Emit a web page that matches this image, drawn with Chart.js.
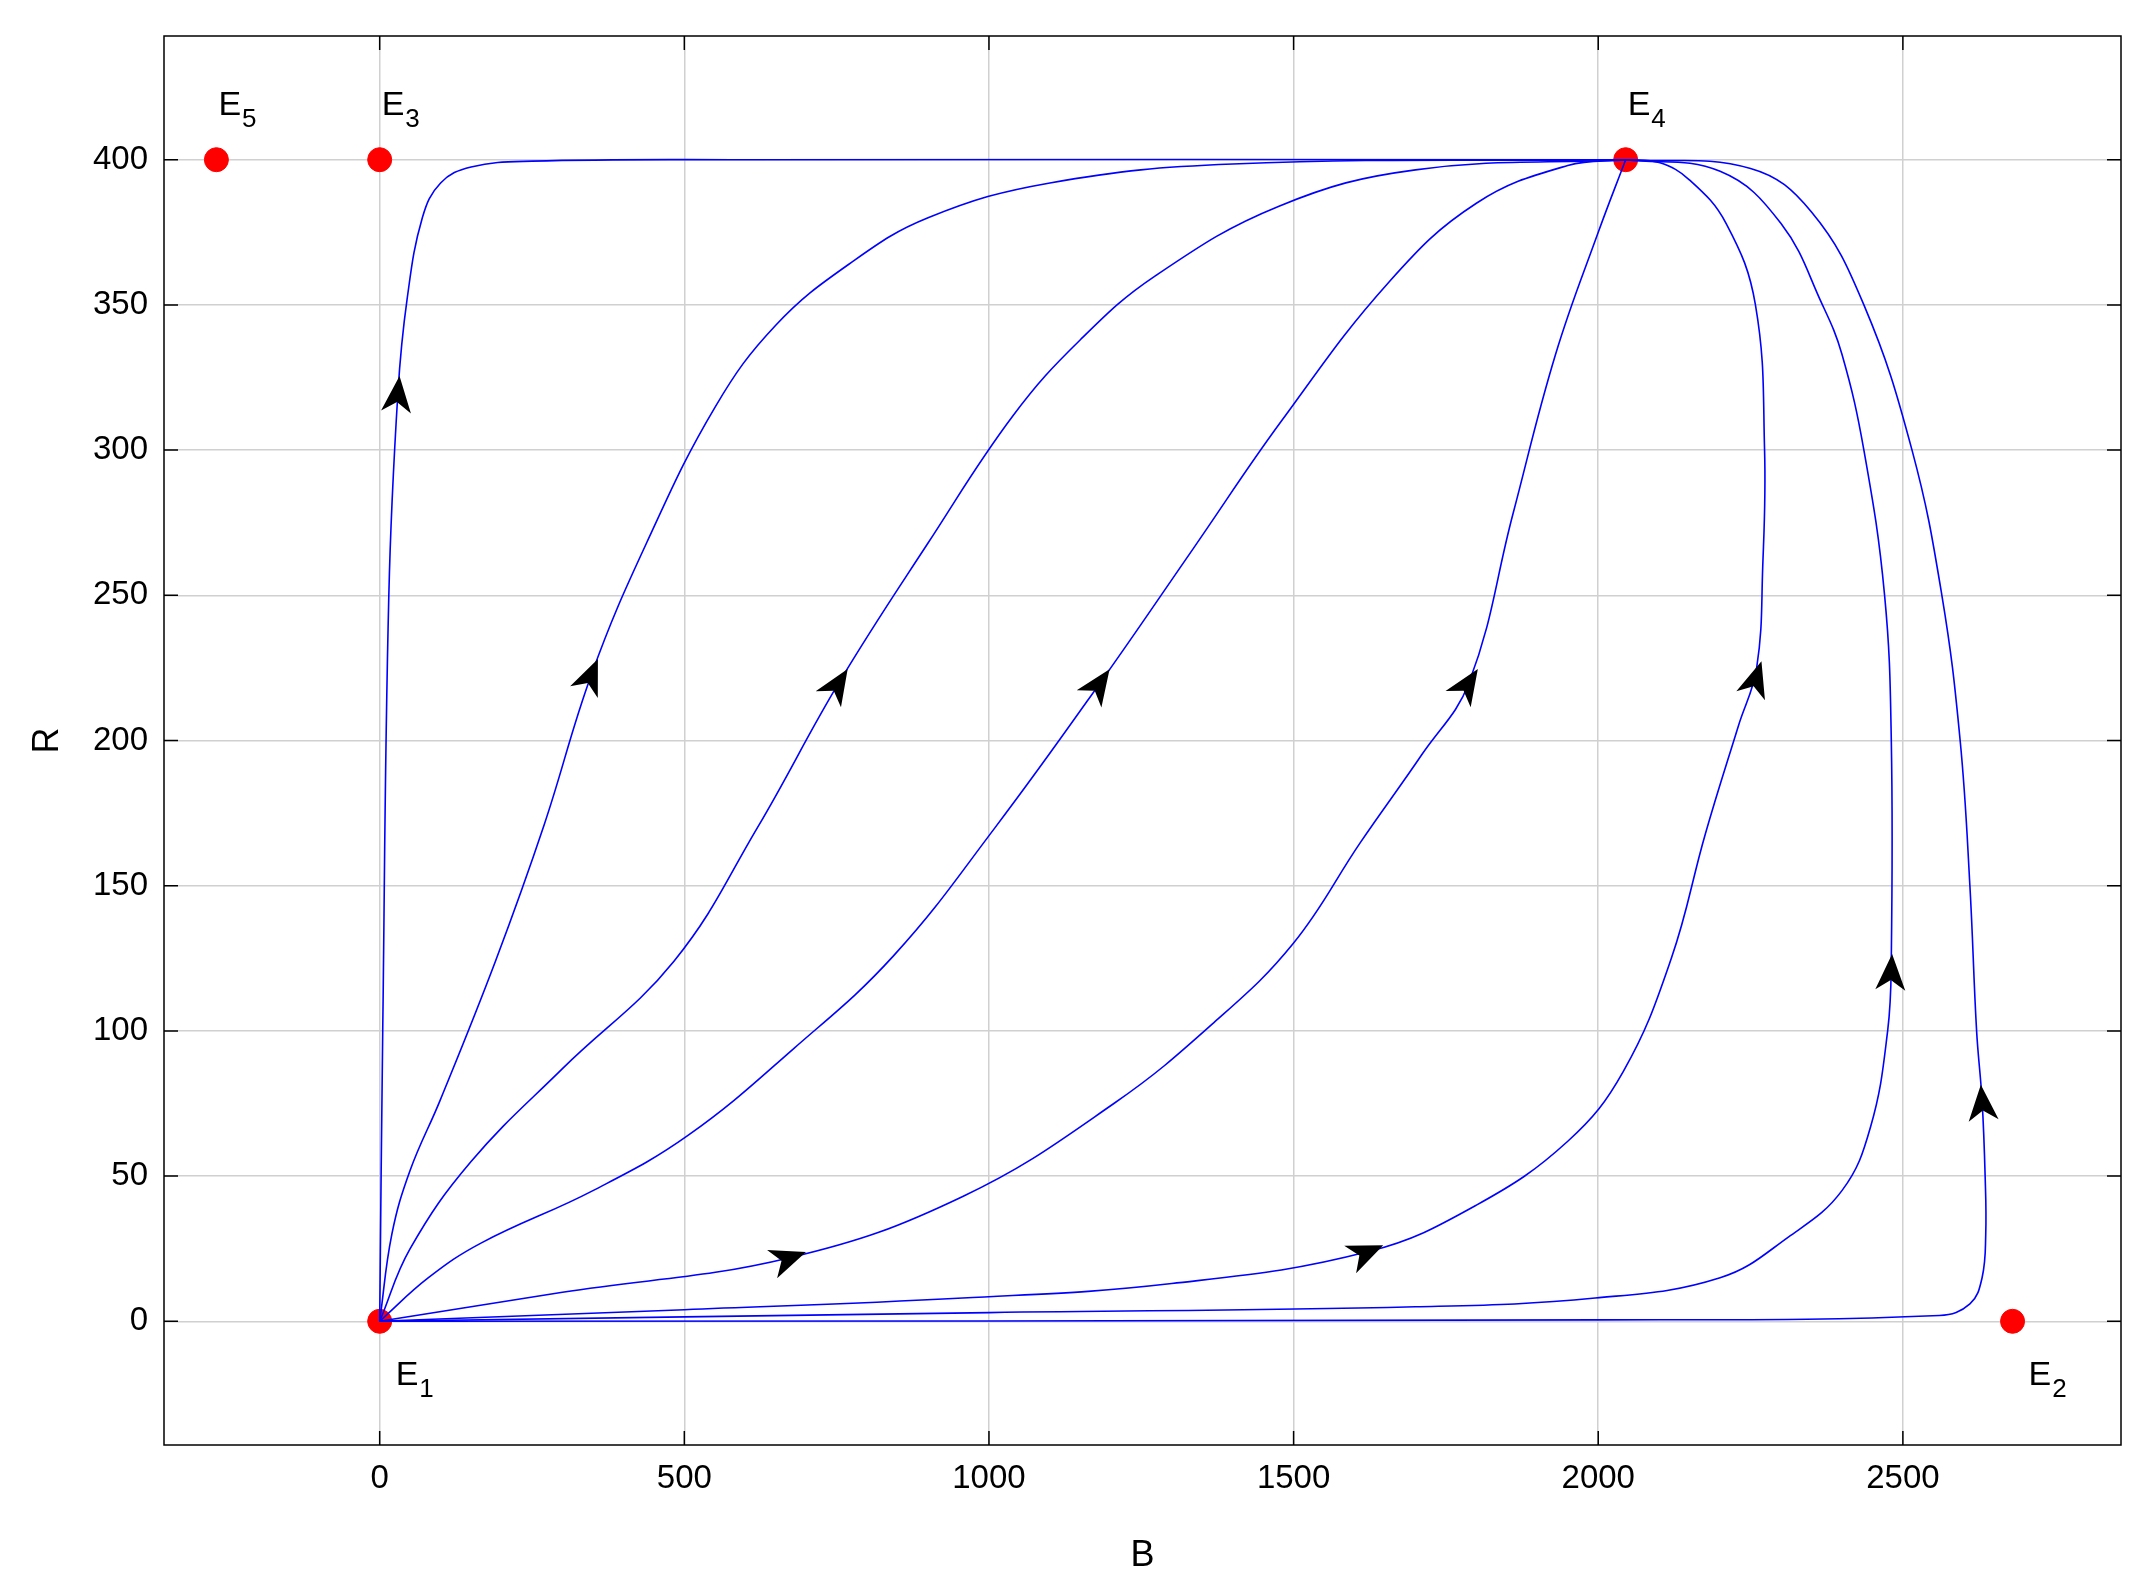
<!DOCTYPE html>
<html><head><meta charset="utf-8">
<script src="https://cdn.jsdelivr.net/npm/chart.js@4/dist/chart.umd.min.js"></script>
<style>html,body{margin:0;padding:0;background:#fff}#w{width:2155px;height:1582px}</style>
</head><body><div id="w"><canvas id="c"></canvas></div>
<script>
const xTicks=[0,500,1000,1500,2000,2500];
const yTicks=[0,50,100,150,200,250,300,350,400];
const equilibria=[{x:0,y:0,label:'1',pos:'below'},{x:2680,y:0,label:'2',pos:'below'},{x:0,y:400,label:'3',pos:'above'},{x:2045,y:400,label:'4',pos:'above'},{x:-268,y:400,label:'5',pos:'above'}];
const trajA=[[0,0],[5,100],[15,250],[30,320],[45,352],[70,380],[100,392],[150,397.5],[250,399.5],[600,400],[2045,400]];
const trajB=[[0,0],[20,30],[50,52],[99,76],[190,124],[270,171],[348,223],[438,268],[551,315],[650,343],[770,364],[900,380],[1100,392],[1400,398.5],[2045,400]];
const trajC=[[0,0],[50,25],[150,55],[300,87],[483,124],[620,170],[754,220],[900,268],[1040,312],[1150,338],[1273,360],[1476,384],[1700,396.5],[2045,400]];
const trajD=[[0,0],[80,15],[167,27],[350,45],[506,64],[680,94],[844,126],[1010,170],[1183,220],[1335,266],[1480,310],[1657,358],[1800,385],[1950,398],[2045,400]];
const trajE=[[0,0],[300,10],[675,22],[957,43],[1205,75],[1370,103],[1499,130],[1610,165],[1710,195],[1788,220],[1860,278],[1930,333],[2000,375],[2045,400]];
const trajF=[[0,0],[500,4],[957,8],[1300,13],[1623,24],[1800,40],[1950,62],[2041,86],[2120,125],[2176,168],[2230,205],[2260,225],[2270,260],[2273,300],[2258,350],[2210,378],[2150,393],[2100,399],[2045,400]];
const trajG=[[0,0],[1000,3],[1700,5],[1995,8],[2200,15],[2312,29],[2400,45],[2447,67],[2475,100],[2481,125],[2481,200],[2470,250],[2436,300],[2400,333],[2368,350],[2300,378],[2200,396],[2045,400]];
const trajH=[[0,0],[2000,0.5],[2560,2],[2610,6],[2630,15],[2636,30],[2635,50],[2630,76],[2621,100],[2610,150],[2594,200],[2564,250],[2515,300],[2436,350],[2350,382],[2250,397],[2045,400]];
const trajectories=[trajA,trajB,trajC,trajD,trajE,trajF,trajG,trajH];
// arrows: [trajectory index, x, y]
const arrows=[[0,30,320],[1,348,223],[2,754,220],[3,1183,220],[4,675,22],[4,1788,220],[5,1623,24],[5,2260,222],[6,2481,121],[7,2630,76]];

const ds=trajectories.map(t=>({data:t.map(p=>({x:p[0],y:p[1]})),showLine:true,borderColor:'#0000ff',borderWidth:1.6,pointRadius:0,tension:0.4,fill:false}));
ds.push({data:equilibria.map(e=>({x:e.x,y:e.y})),showLine:false,pointRadius:12,pointHoverRadius:12,backgroundColor:'#ff0000',borderColor:'#ff0000'});

const FONT='"Liberation Sans", Arial, sans-serif';
const deco={id:'deco',
 beforeDatasetsDraw(ch){const {ctx,chartArea:a,scales:{x,y}}=ch;ctx.save();ctx.strokeStyle='#000';ctx.lineWidth=1.5;
  xTicks.forEach(v=>{const px=x.getPixelForValue(v);ctx.beginPath();ctx.moveTo(px,a.bottom);ctx.lineTo(px,a.bottom-14);ctx.moveTo(px,a.top);ctx.lineTo(px,a.top+14);ctx.stroke();});
  yTicks.forEach(v=>{const py=y.getPixelForValue(v);ctx.beginPath();ctx.moveTo(a.left,py);ctx.lineTo(a.left+14,py);ctx.moveTo(a.right,py);ctx.lineTo(a.right-14,py);ctx.stroke();});
  ctx.strokeRect(a.left,a.top,a.right-a.left,a.bottom-a.top);ctx.restore();},
 afterDatasetsDraw(ch){const {ctx,scales:{x,y}}=ch;ctx.save();
  arrows.forEach(([ti,ax,ay])=>{const t=trajectories[ti];let best=0,bd=1e18;
    for(let i=0;i<t.length-1;i++){const mx=(t[i][0]+t[i+1][0])/2,my=(t[i][1]+t[i+1][1])/2;const d=Math.hypot(x.getPixelForValue(mx)-x.getPixelForValue(ax),y.getPixelForValue(my)-y.getPixelForValue(ay));if(d<bd){bd=d;best=i;}}
    const dx=x.getPixelForValue(t[best+1][0])-x.getPixelForValue(t[best][0]);const dy=y.getPixelForValue(t[best+1][1])-y.getPixelForValue(t[best][1]);
    const ang=Math.atan2(dy,dx);const px=x.getPixelForValue(ax),py=y.getPixelForValue(ay);
    ctx.save();ctx.translate(px,py);ctx.rotate(ang);ctx.fillStyle='#000';ctx.beginPath();
    ctx.moveTo(16,0);ctx.lineTo(-20,-15);ctx.lineTo(-10,0);ctx.lineTo(-20,15);ctx.closePath();ctx.fill();ctx.restore();});
  ctx.fillStyle='#000';
  equilibria.forEach(e=>{const px=x.getPixelForValue(e.x),py=y.getPixelForValue(e.y);const bx=px+(e.pos==='below'?16:2),by=e.pos==='below'?py+64:py-45;
    ctx.font='34px '+FONT;ctx.textAlign='left';ctx.textBaseline='alphabetic';ctx.fillText('E',bx,by);const w=ctx.measureText('E').width;
    ctx.font='26px '+FONT;ctx.fillText(e.label,bx+w+1,by+12);});
  ctx.restore();}};

new Chart(document.getElementById('c'),{type:'scatter',data:{datasets:ds},plugins:[deco],
 options:{responsive:true,maintainAspectRatio:false,animation:false,devicePixelRatio:1,
  layout:{padding:{left:22,top:36,right:34,bottom:0}},
  plugins:{legend:{display:false},tooltip:{enabled:false}},
  scales:{
   x:{type:'linear',min:-354,max:2858,afterBuildTicks:s=>{s.ticks=xTicks.map(v=>({value:v}));},afterFit:s=>{s.height=137;},
    grid:{color:'#d0d0d0',lineWidth:1.5,drawTicks:false},border:{display:false},
    ticks:{color:'#000',font:{family:FONT,size:33},padding:14,maxRotation:0,callback:v=>String(v)},
    title:{display:true,text:'B',color:'#000',font:{family:FONT,size:36},padding:{top:2}}},
   y:{type:'linear',min:-42.6,max:442.6,afterBuildTicks:s=>{s.ticks=yTicks.map(v=>({value:v}));},afterFit:s=>{s.width=142;},
    grid:{color:'#d0d0d0',lineWidth:1.5,drawTicks:false},border:{display:false},
    ticks:{color:'#000',font:{family:FONT,size:33},padding:16,callback:v=>String(v)},
    title:{display:true,text:'R',color:'#000',font:{family:FONT,size:36},padding:{bottom:0}}}}}});
</script></body></html>
